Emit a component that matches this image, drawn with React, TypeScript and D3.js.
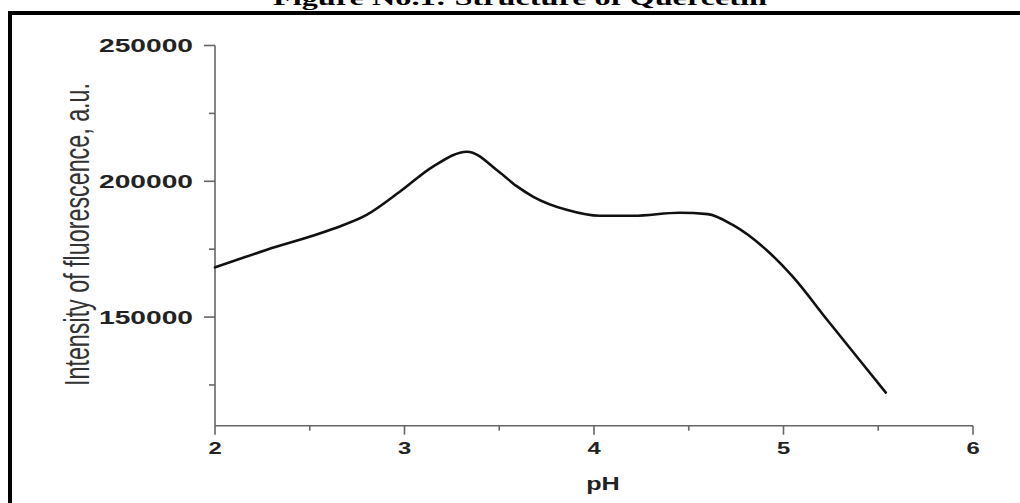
import React from 'react';
import * as d3 from 'd3';

// pH vs fluorescence intensity
const phValues = [2.0, 2.27, 2.62, 2.8, 2.98, 3.15, 3.33, 3.5, 3.59, 3.68, 3.86, 4.03, 4.21, 4.45, 4.6, 4.73, 4.91, 5.05, 5.23, 5.4, 5.54];
const intensity = [168300, 174700, 182400, 187600, 196400, 205400, 210900, 203400, 198300, 194300, 189400, 187300, 187300, 188400, 187900, 184000, 174700, 164800, 149000, 134300, 122200];

const xMajor = [2, 3, 4, 5, 6];
const xMinor = [2.5, 3.5, 4.5, 5.5];
const yMajor = [150000, 200000, 250000];
const yMinor = [125000, 175000, 225000];

const W = 1020;
const H = 503;
const dim = { l: 215, r: 973, t: 45.5, b: 425.7 };
const axisColor = '#666';
const sans = '"Liberation Sans", Arial, sans-serif';

const App = () => {
	const x = d3.scaleLinear().domain([2, 6]).range([dim.l, dim.r]);
	const y = d3.scaleLinear().domain([110000, 250000]).range([dim.b, dim.t]);

	const line = d3
		.line<number>()
		.x((d, i) => x(phValues[i]))
		.y((d) => y(d))
		.curve(d3.curveMonotoneX);

	return (
		<svg width={W} height={H} style={{ position: 'absolute', left: 0, top: 0, background: '#fff' }}>
			{/* frame + title (cut off at the top like the scan) */}
			<rect x={10} y={13} width={1030} height={520} fill="none" stroke="#000" strokeWidth={4} />
			<text x={520} y={5} textAnchor="middle" fontFamily='"Liberation Serif", "Times New Roman", serif' fontWeight="bold" fontSize={22} textLength={494} lengthAdjust="spacingAndGlyphs">
				Figure No.1: Structure of Quercetin
			</text>

			{/* axes */}
			<g stroke={axisColor} strokeWidth={1.6} fill="none">
				<line x1={dim.l} x2={dim.l} y1={dim.t} y2={dim.b} />
				<line x1={dim.l} x2={dim.r} y1={dim.b} y2={dim.b} />
				{yMajor.map((v) => (
					<line key={'ym' + v} x1={dim.l - 11} x2={dim.l} y1={y(v)} y2={y(v)} />
				))}
				{yMinor.map((v) => (
					<line key={'yn' + v} x1={dim.l - 6} x2={dim.l} y1={y(v)} y2={y(v)} />
				))}
				{xMajor.map((v) => (
					<line key={'xm' + v} x1={x(v)} x2={x(v)} y1={dim.b} y2={dim.b + 9} />
				))}
				{xMinor.map((v) => (
					<line key={'xn' + v} x1={x(v)} x2={x(v)} y1={dim.b} y2={dim.b + 5} />
				))}
			</g>

			{yMajor.map((v) => (
				<text key={'yl' + v} x={193} y={y(v) + 6.5} textAnchor="end" fontFamily={sans} fontWeight="bold" fontSize={18} fill="#222" textLength={94} lengthAdjust="spacingAndGlyphs">
					{v}
				</text>
			))}
			{xMajor.map((v) => (
				<text key={'xl' + v} transform={`translate(${x(v)}, ${453.5}) scale(1.4, 1)`} textAnchor="middle" fontFamily={sans} fontWeight="bold" fontSize={17} fill="#222">
					{v}
				</text>
			))}

			<text transform={`translate(603, 489.5) scale(1.4, 1)`} textAnchor="middle" fontFamily={sans} fontWeight="bold" fontSize={18} fill="#222">
				pH
			</text>
			<text transform={`translate(88.5, 234.5) rotate(-90) scale(1, 1.5)`} textAnchor="middle" fontFamily={sans} fontSize={23} fill="#333" textLength={303} lengthAdjust="spacingAndGlyphs">
				Intensity of fluorescence, a.u.
			</text>

			<path d={line(intensity) || ''} fill="none" stroke="#111" strokeWidth={2.6} strokeLinejoin="round" strokeLinecap="round" />
		</svg>
	);
};

export default App;
